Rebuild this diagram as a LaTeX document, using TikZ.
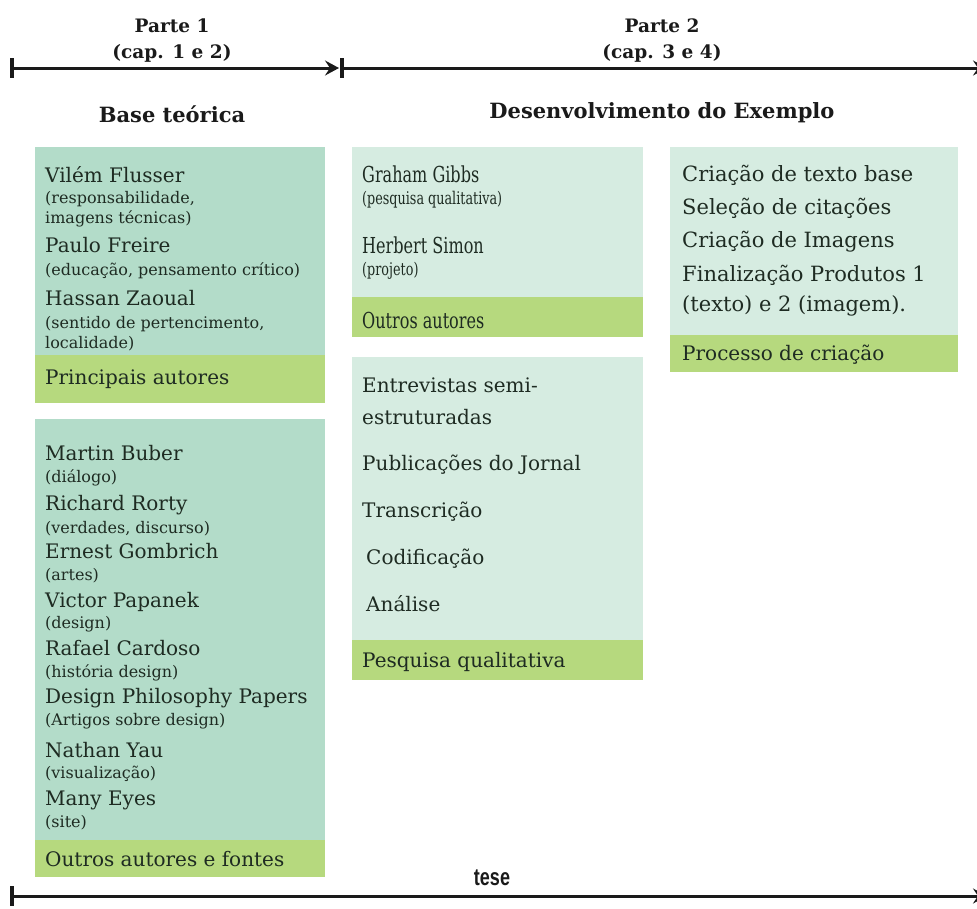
\documentclass[tikz,border=0pt]{standalone}
\usepackage{fontspec}
\setmainfont{DejaVu Serif}
\newfontfamily\condfont[FakeStretch=0.73]{DejaVu Serif}
\newfontfamily\tesefont[FakeStretch=0.75]{Liberation Sans}
\usetikzlibrary{arrows.meta}
\definecolor{tealA}{HTML}{B3DCC9}
\definecolor{tealB}{HTML}{D6ECE1}
\definecolor{greenF}{HTML}{B6D97E}
\definecolor{textc}{HTML}{1E2B22}
\definecolor{linec}{HTML}{1A1A1A}
\tikzset{
  panelA/.style={fill=tealA, draw=none, inner sep=0pt, anchor=north west},
  panelB/.style={fill=tealB, draw=none, inner sep=0pt, anchor=north west},
  footbox/.style={fill=greenF, draw=none, inner sep=0pt, anchor=north west},
  txt/.style={inner sep=0pt, anchor=base west, text=textc},
  bigtxt/.style={txt, font=\fontsize{20}{24}\selectfont},
  largetxt/.style={txt, font=\fontsize{21}{25}\selectfont},
  smalltxt/.style={txt, font=\fontsize{16}{19}\selectfont},
  cbigtxt/.style={txt, font=\condfont\fontsize{22}{26}\selectfont},
  csmalltxt/.style={txt, font=\condfont\fontsize{17.5}{21}\selectfont},
  headtxt/.style={inner sep=0pt, anchor=base, text=linec, font=\bfseries\fontsize{21}{25}\selectfont},
  parttxt/.style={inner sep=0pt, anchor=base, text=linec, font=\bfseries\fontsize{18.5}{22}\selectfont},
  timeline/.style={draw=linec, line width=3pt},
  tickline/.style={draw=linec, line width=3.5pt},
  tip/.style={-{Stealth[length=14pt,width=15pt,inset=5pt]}}
}
\begin{document}
\begin{tikzpicture}[x=1pt,y=-1pt]
\useasboundingbox (0,0) rectangle (977,908);
\fill[white] (0,0) rectangle (977,908);

% ---------- timeline top ----------
\coordinate (a0) at (12,68);
\coordinate (a1) at (342,68);
\coordinate (a1t) at (339,68);
\coordinate (a2) at (987,68);
\draw[timeline, tip] (a0) -- (a1t);
\draw[timeline, tip] (a1) -- (a2);
\draw[tickline] ([yshift=10pt]a0) -- ([yshift=-10pt]a0);
\draw[tickline] ([yshift=10pt]a1) -- ([yshift=-10pt]a1);

\node[parttxt] (p1) at (172,32) {Parte 1};
\node[parttxt] (p1c) at (172,58) {(cap. 1 e 2)};
\node[parttxt] (p2) at (662,32) {Parte 2};
\node[parttxt] (p2c) at (662,58) {(cap. 3 e 4)};

\node[headtxt] (h1) at (172,122) {Base teórica};
\node[headtxt] (h2) at (662,118) {Desenvolvimento do Exemplo};

% ---------- box 1 ----------
\node[panelA, minimum width=290pt, minimum height=256pt] (b1) at (35,147) {};
\node[footbox, minimum width=290pt, minimum height=48pt] (f1) at (35,355) {};
\node[bigtxt] (t11) at (45,182) {Vilém Flusser};
\node[smalltxt] (t12) at (45,203) {(responsabilidade,};
\node[smalltxt] (t13) at (45,223) {imagens técnicas)};
\node[bigtxt] (t14) at (45,252) {Paulo Freire};
\node[smalltxt] (t15) at (45,275) {(educação, pensamento crítico)};
\node[bigtxt] (t16) at (45,305) {Hassan Zaoual};
\node[smalltxt] (t17) at (45,328) {(sentido de pertencimento,};
\node[smalltxt] (t18) at (45,348) {localidade)};
\node[bigtxt] (t19) at (45,384) {Principais autores};

% ---------- box 2 ----------
\node[panelA, minimum width=290pt, minimum height=458pt] (b2) at (35,419) {};
\node[footbox, minimum width=290pt, minimum height=37pt] (f2) at (35,840) {};
\node[bigtxt] (t21) at (45,460) {Martin Buber};
\node[smalltxt] (t22) at (45,482) {(diálogo)};
\node[bigtxt] (t23) at (45,510) {Richard Rorty};
\node[smalltxt] (t24) at (45,533) {(verdades, discurso)};
\node[bigtxt] (t25) at (45,558) {Ernest Gombrich};
\node[smalltxt] (t26) at (45,580) {(artes)};
\node[bigtxt] (t27) at (45,607) {Victor Papanek};
\node[smalltxt] (t28) at (45,628) {(design)};
\node[bigtxt] (t29) at (45,655) {Rafael Cardoso};
\node[smalltxt] (t2a) at (45,677) {(história design)};
\node[bigtxt] (t2b) at (45,703) {Design Philosophy Papers};
\node[smalltxt] (t2c) at (45,725) {(Artigos sobre design)};
\node[bigtxt] (t2d) at (45,757) {Nathan Yau};
\node[smalltxt] (t2e) at (45,778) {(visualização)};
\node[bigtxt] (t2f) at (45,805) {Many Eyes};
\node[smalltxt] (t2g) at (45,827) {(site)};
\node[bigtxt] (t2h) at (45,866) {Outros autores e fontes};

% ---------- box 3 ----------
\node[panelB, minimum width=291pt, minimum height=190pt] (b3) at (352,147) {};
\node[footbox, minimum width=291pt, minimum height=40pt] (f3) at (352,297) {};
\node[cbigtxt] (t31) at (362,182) {Graham Gibbs};
\node[csmalltxt] (t32) at (362,204) {(pesquisa qualitativa)};
\node[cbigtxt] (t33) at (362,253) {Herbert Simon};
\node[csmalltxt] (t34) at (362,275) {(projeto)};
\node[cbigtxt] (t35) at (362,328) {Outros autores};

% ---------- box 4 ----------
\node[panelB, minimum width=291pt, minimum height=323pt] (b4) at (352,357) {};
\node[footbox, minimum width=291pt, minimum height=40pt] (f4) at (352,640) {};
\node[bigtxt] (t41) at (362,392) {Entrevistas semi-};
\node[bigtxt] (t42) at (362,424) {estruturadas};
\node[bigtxt] (t43) at (362,470) {Publicações do Jornal};
\node[bigtxt] (t44) at (362,517) {Transcrição};
\node[bigtxt] (t45) at (366,564) {Codificação};
\node[bigtxt] (t46) at (366,611) {Análise};
\node[bigtxt] (t47) at (362,667) {Pesquisa qualitativa};

% ---------- box 5 ----------
\node[panelB, minimum width=288pt, minimum height=225pt] (b5) at (670,147) {};
\node[footbox, minimum width=288pt, minimum height=37pt] (f5) at (670,335) {};
\node[largetxt] (t51) at (682,181) {Criação de texto base};
\node[largetxt] (t52) at (682,214) {Seleção de citações};
\node[largetxt] (t53) at (682,247) {Criação de Imagens};
\node[largetxt] (t54) at (682,281) {Finalização Produtos 1};
\node[largetxt] (t55) at (682,311) {(texto) e 2 (imagem).};
\node[bigtxt] (t56) at (682,360) {Processo de criação};

% ---------- timeline bottom ----------
\node[inner sep=0pt, anchor=base, text=linec, font=\tesefont\bfseries\fontsize{24}{28}\selectfont] (tese) at (492,885) {tese};
\coordinate (c0) at (12,896);
\coordinate (c1) at (987,896);
\draw[timeline, tip] (c0) -- (c1);
\draw[tickline] ([yshift=10pt]c0) -- ([yshift=-10pt]c0);
\end{tikzpicture}
\end{document}
